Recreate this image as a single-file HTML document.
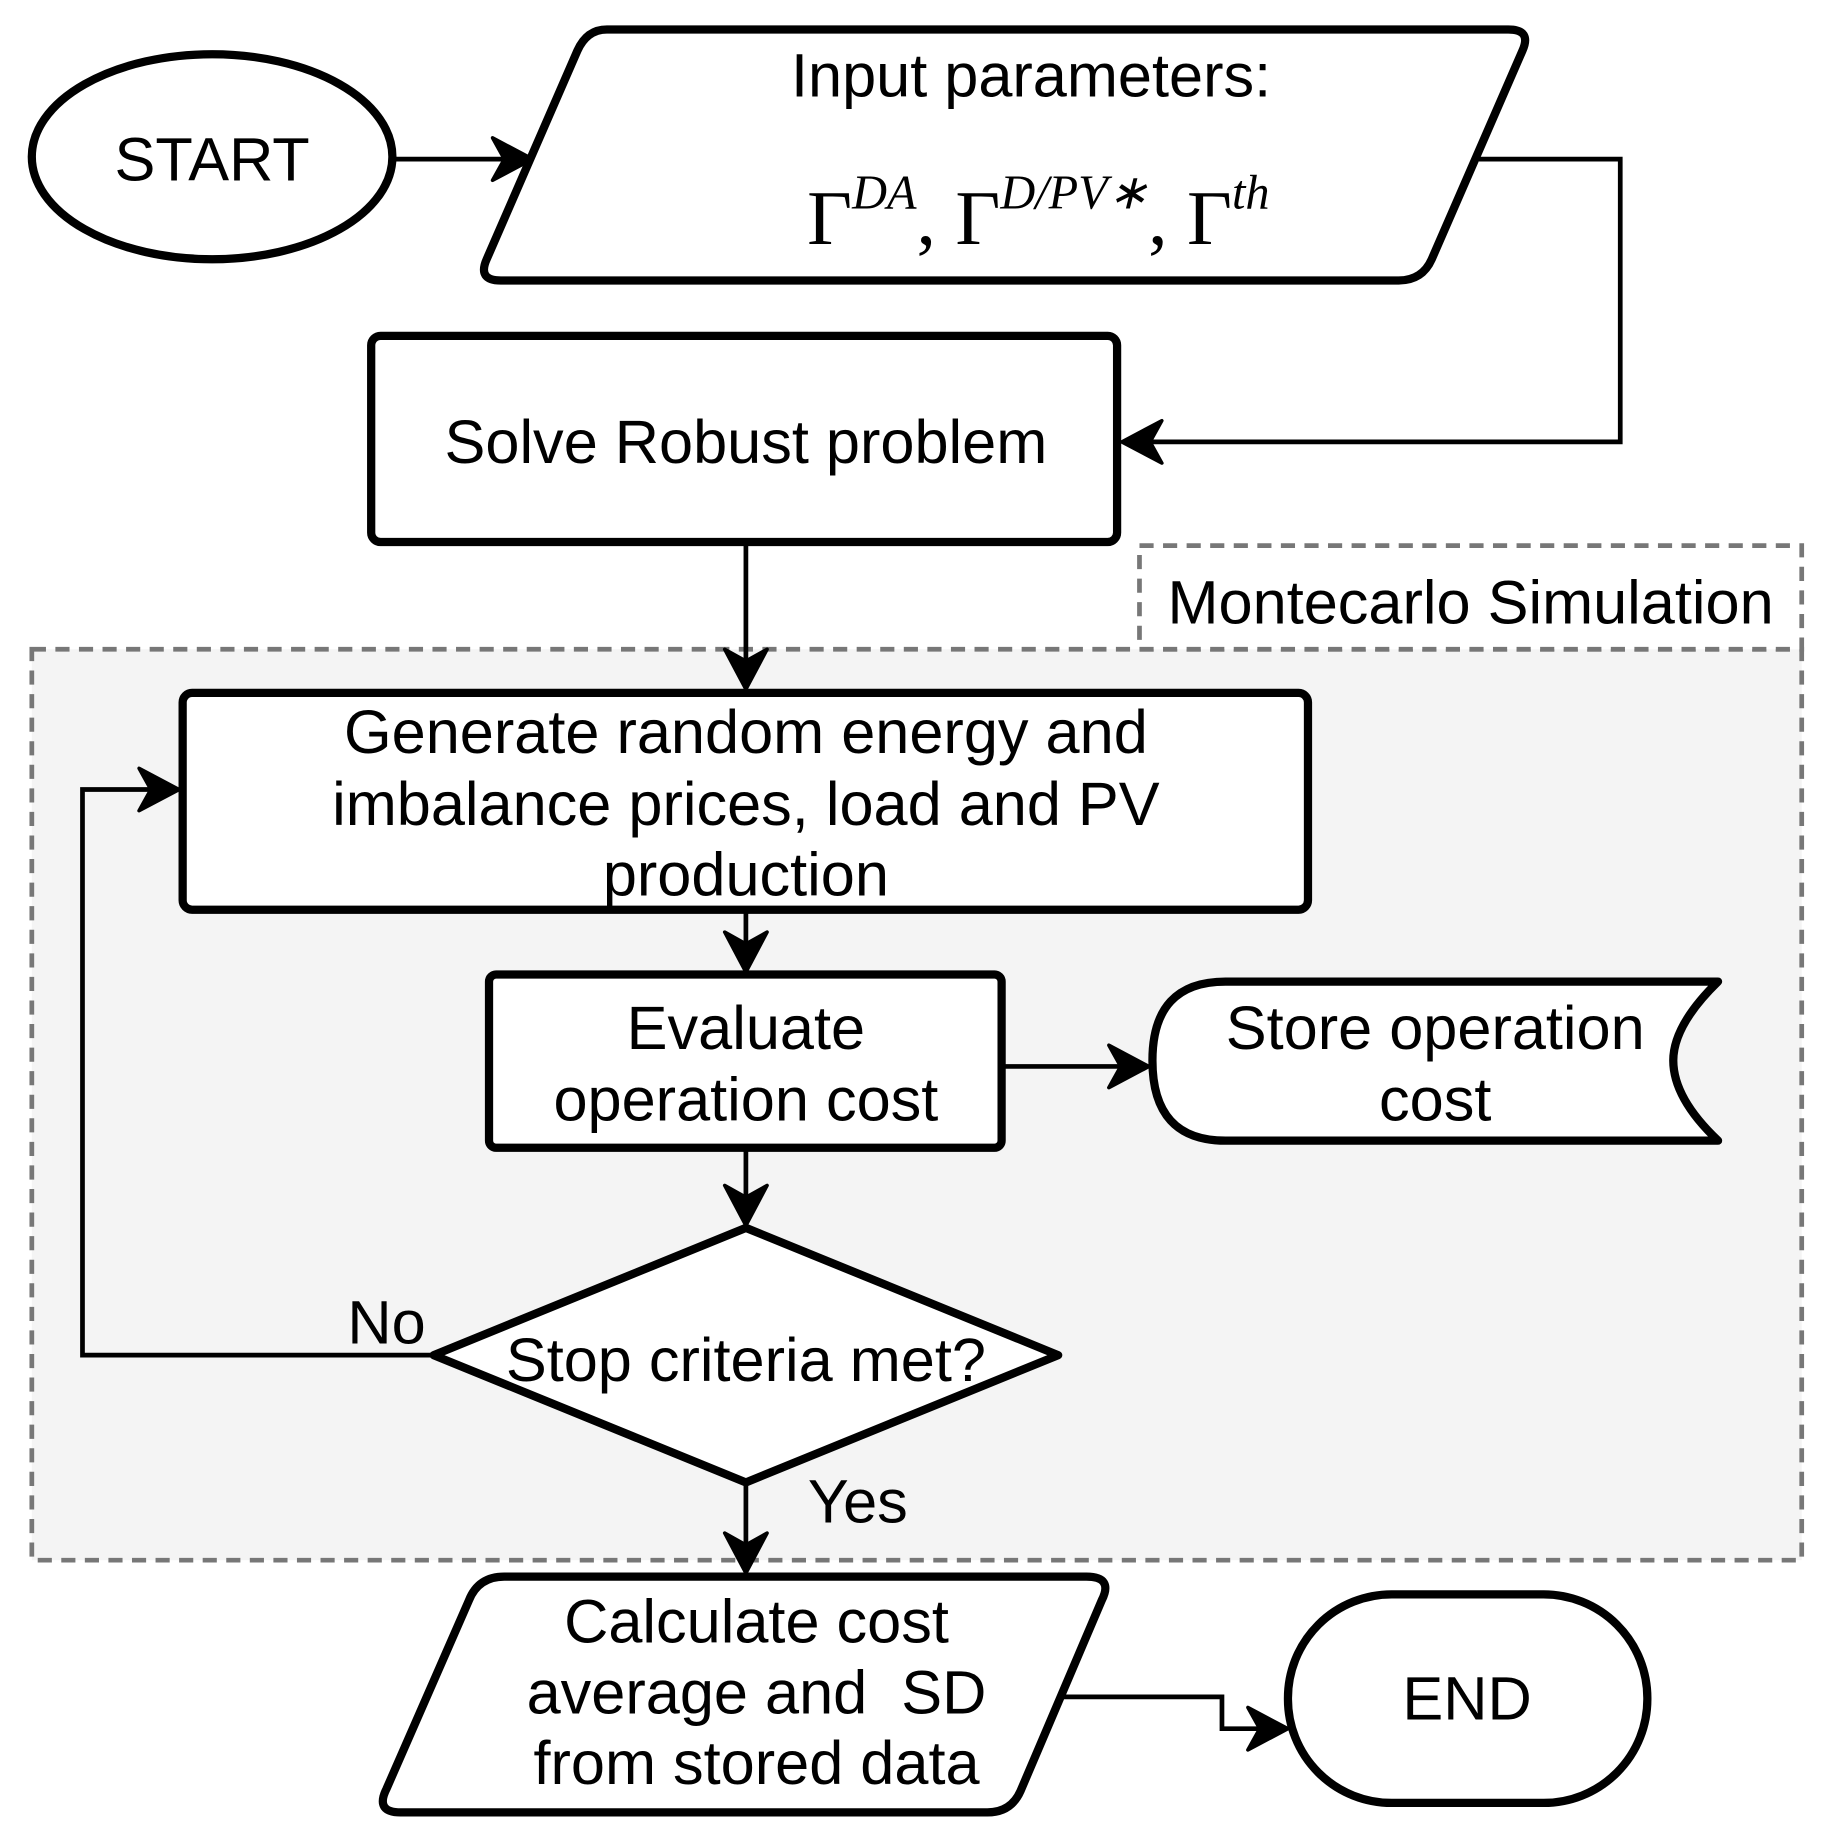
<!DOCTYPE html>
<html><head><meta charset="utf-8"><style>
html,body{margin:0;padding:0;background:#fff}
svg{display:block}
text{font-family:"Liberation Sans",sans-serif;fill:#000}
</style></head><body>
<svg width="1830" height="1843" viewBox="0 0 1553 1564" preserveAspectRatio="none" xmlns="http://www.w3.org/2000/svg">
<g fill="none" stroke="#000" stroke-width="4">
<rect x="27" y="551" width="1502" height="773" fill="#f4f4f4" stroke="#777" stroke-width="4" stroke-dasharray="12,8"/>
<rect x="967" y="463" width="562" height="88" fill="#fff" stroke="#777" stroke-width="4" stroke-dasharray="12,8"/>
<path d="M335 135 H440"/>
<path d="M1255 135 H1375 V375 H962"/>
<path d="M633 460 V575"/>
<path d="M633 772 V815"/>
<path d="M850 905 H965"/>
<path d="M633 975 V1030"/>
<path d="M368 1150 H70 V670 H142"/>
<path d="M633 1258 V1325"/>
<path d="M900 1440 H1037 V1467 H1083"/>
</g>
<g fill="#000" stroke="#000" stroke-width="3" stroke-linejoin="round">
<path d="M452 135 L418 117 L428 135 L418 153 Z"/>
<path d="M952 375 L986 357 L976 375 L986 393 Z"/>
<path d="M633 585 L615 551 L633 561 L651 551 Z"/>
<path d="M633 825 L615 791 L633 801 L651 791 Z"/>
<path d="M975 905 L941 887 L951 905 L941 923 Z"/>
<path d="M633 1040 L615 1006 L633 1016 L651 1006 Z"/>
<path d="M152 670 L118 652 L128 670 L118 688 Z"/>
<path d="M633 1335 L615 1301 L633 1311 L651 1301 Z"/>
<path d="M1093 1467 L1059 1449 L1069 1467 L1059 1485 Z"/>
</g>
<g fill="#fff" stroke="#000" stroke-width="7" stroke-linejoin="round">
<ellipse cx="180" cy="133" rx="153" ry="87"/>
<path d="M515 25 H1280 Q1300 25 1292 43 L1215 220 Q1207 238 1187 238 H425 Q405 238 413 220 L490 43 Q498 25 515 25 Z"/>
<rect x="315" y="285" width="633" height="175" rx="8"/>
<rect x="155" y="588" width="955" height="184" rx="8"/>
<rect x="415" y="827" width="435" height="147" rx="6"/>
<path d="M1040 833 H1458 Q1420 870 1420 900 Q1420 932 1458 968 H1040 Q978 968 978 900 Q978 833 1040 833 Z"/>
<path d="M633 1042 L898 1150 L633 1258 L368 1150 Z"/>
<path d="M428 1338 H922 Q945 1338 935 1358 L866 1520 Q858 1538 838 1538 H340 Q318 1538 328 1518 L398 1358 Q406 1338 428 1338 Z"/>
<rect x="1093" y="1353" width="305" height="177" rx="88"/>
</g>
<g font-size="52" text-anchor="middle">
<text x="180" y="153">START</text>
<text x="875" y="82">Input parameters:</text>
<text x="633" y="393">Solve Robust problem</text>
<text x="1248" y="529">Montecarlo Simulation</text>
<text x="633" y="639">Generate random energy and</text>
<text x="633" y="700">imbalance prices, load and PV</text>
<text x="633" y="760">production</text>
<text x="633" y="890">Evaluate</text>
<text x="633" y="951">operation cost</text>
<text x="1218" y="890">Store operation</text>
<text x="1218" y="951">cost</text>
<text x="633" y="1172">Stop criteria met?</text>
<text x="328" y="1140">No</text>
<text x="728" y="1292">Yes</text>
<text x="642" y="1394">Calculate cost</text>
<text x="642" y="1454">average and&#160; SD</text>
<text x="642" y="1514">from stored data</text>
<text x="1245" y="1459">END</text>
</g>
<text x="685" y="207" style="font-family:'Liberation Serif',serif;font-size:66px">Γ<tspan font-size="41" font-style="italic" dy="-30">DA</tspan><tspan dy="30">, Γ</tspan><tspan font-size="41" font-style="italic" dy="-30">D/PV∗</tspan><tspan dy="30">, Γ</tspan><tspan font-size="41" font-style="italic" dy="-30">th</tspan></text>
</svg>
</body></html>
